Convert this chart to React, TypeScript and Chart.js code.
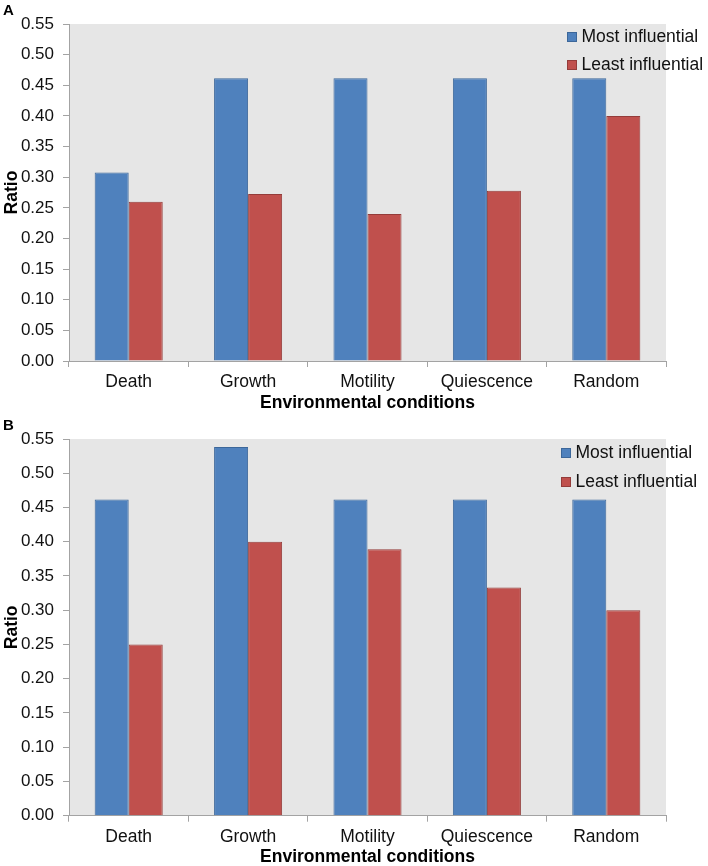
import React, { useEffect, useRef } from "react";
import { Chart, registerables } from "chart.js";

Chart.register(...registerables);

const categories = ["Death", "Growth", "Motility", "Quiescence", "Random"];
const seriesNames = ["Most influential", "Least influential"];
const panelAMost = [0.3077, 0.4615, 0.4615, 0.4615, 0.4615];
const panelALeast = [0.26, 0.2727, 0.24, 0.278, 0.4];
const panelBMost = [0.4615, 0.5385, 0.4615, 0.4615, 0.4615];
const panelBLeast = [0.25, 0.4, 0.3889, 0.3333, 0.3];
const yTickValues = [0, 0.05, 0.1, 0.15, 0.2, 0.25, 0.3, 0.35, 0.4, 0.45, 0.5, 0.55];
const xTitle = "Environmental conditions";
const yTitle = "Ratio";

const BLUE = "#4F81BD";
const BLUE_EDGE = "#3C679A";
const RED = "#C0504D";
const RED_EDGE = "#943C3A";
const PLOT_BG = "#E6E6E6";
const AXIS = "#A3A3A3";
const FONT = "'Liberation Sans', Arial, sans-serif";

type PanelProps = {
  letter: string;
  most: number[];
  least: number[];
  height: number;
  plotBottom: number;
  titlePad: number;
  legendX: number;
  legendY: [number, number];
};

function Panel({ letter, most, least, height, plotBottom, titlePad, legendX, legendY }: PanelProps) {
  const ref = useRef<HTMLCanvasElement | null>(null);
  useEffect(() => {
    if (!ref.current) return;
    const decor = {
      id: "decor",
      beforeDraw(chart: any) {
        const { ctx, chartArea } = chart;
        ctx.save();
        ctx.fillStyle = PLOT_BG;
        ctx.fillRect(chartArea.left, chartArea.top, chartArea.right - chartArea.left, chartArea.bottom - chartArea.top);
        ctx.restore();
      },
      afterDraw(chart: any) {
        const { ctx, chartArea } = chart;
        ctx.save();
        // panel letter
        ctx.fillStyle = "#000";
        ctx.font = `bold 15px ${FONT}`;
        ctx.textAlign = "left";
        ctx.textBaseline = "middle";
        ctx.fillText(letter, 3, 11);
        // y title
        ctx.save();
        ctx.translate(12, (chartArea.top + chartArea.bottom) / 2);
        ctx.rotate(-Math.PI / 2);
        ctx.textAlign = "center";
        ctx.textBaseline = "middle";
        ctx.font = `bold 17.5px ${FONT}`;
        ctx.fillText(yTitle, 0, 0);
        ctx.restore();
        // legend
        const fills = [BLUE, RED];
        const edges = [BLUE_EDGE, RED_EDGE];
        ctx.font = `17.5px ${FONT}`;
        ctx.textAlign = "left";
        ctx.textBaseline = "middle";
        seriesNames.forEach((name, i) => {
          const cy = legendY[i];
          ctx.fillStyle = fills[i];
          ctx.fillRect(legendX, cy - 5, 10, 10);
          ctx.strokeStyle = edges[i];
          ctx.lineWidth = 1;
          ctx.strokeRect(legendX + 0.5, cy - 4.5, 9, 9);
          ctx.fillStyle = "#111";
          ctx.fillText(name, legendX + 14.5, cy + 0.5);
        });
        ctx.restore();
      },
    };
    const chart = new Chart(ref.current, {
      type: "bar",
      data: {
        labels: categories,
        datasets: [
          {
            label: seriesNames[0],
            data: most,
            backgroundColor: BLUE,
            borderColor: BLUE_EDGE,
            borderWidth: 1,
            categoryPercentage: 0.57,
            barPercentage: 1.0,
          },
          {
            label: seriesNames[1],
            data: least,
            backgroundColor: RED,
            borderColor: RED_EDGE,
            borderWidth: 1,
            categoryPercentage: 0.57,
            barPercentage: 1.0,
          },
        ],
      },
      options: {
        responsive: false,
        maintainAspectRatio: false,
        animation: false,
        devicePixelRatio: 1,
        layout: { padding: { left: 0, top: 24, right: 42, bottom: 0 } },
        plugins: {
          legend: { display: false },
          tooltip: { enabled: false },
          title: { display: false },
        },
        scales: {
          x: {
            afterFit: (scale: any) => {
              scale.height = height - plotBottom;
            },
            grid: {
              display: true,
              offset: true,
              drawOnChartArea: false,
              drawTicks: true,
              tickLength: 6,
              color: AXIS,
            },
            border: { display: true, color: AXIS, width: 1 },
            ticks: {
              color: "#111",
              font: { family: FONT, size: 17.5 },
              padding: 5,
              maxRotation: 0,
            },
            title: {
              display: true,
              text: xTitle,
              color: "#000",
              font: { family: FONT, size: 17.5, weight: "bold", lineHeight: 1 },
              padding: { top: 0, bottom: titlePad },
            },
          },
          y: {
            min: 0,
            max: 0.55,
            afterFit: (scale: any) => {
              scale.width = 69;
            },
            afterBuildTicks: (scale: any) => {
              scale.ticks = yTickValues.map((v) => ({ value: v }));
            },
            grid: {
              display: true,
              drawOnChartArea: false,
              drawTicks: true,
              tickLength: 6,
              color: AXIS,
            },
            border: { display: true, color: AXIS, width: 1 },
            ticks: {
              color: "#111",
              font: { family: FONT, size: 17 },
              padding: 9,
              callback: (v: any) => Number(v).toFixed(2),
            },
          },
        },
      },
      plugins: [decor],
    } as any);
    return () => chart.destroy();
  }, [letter, most, least, height, plotBottom, titlePad, legendX, legendY]);
  return <canvas ref={ref} width={708} height={height} style={{ display: "block", width: 708, height }} />;
}

export default function App() {
  return (
    <div style={{ position: "absolute", left: 0, top: 0, width: 708, height: 866, background: "#fff" }}>
      <Panel letter="A" most={panelAMost} least={panelALeast} height={415} plotBottom={361} titlePad={2.75} legendX={567} legendY={[37, 65]} />
      <Panel letter="B" most={panelBMost} least={panelBLeast} height={451} plotBottom={400.7} titlePad={0.5} legendX={561} legendY={[38, 67]} />
    </div>
  );
}
